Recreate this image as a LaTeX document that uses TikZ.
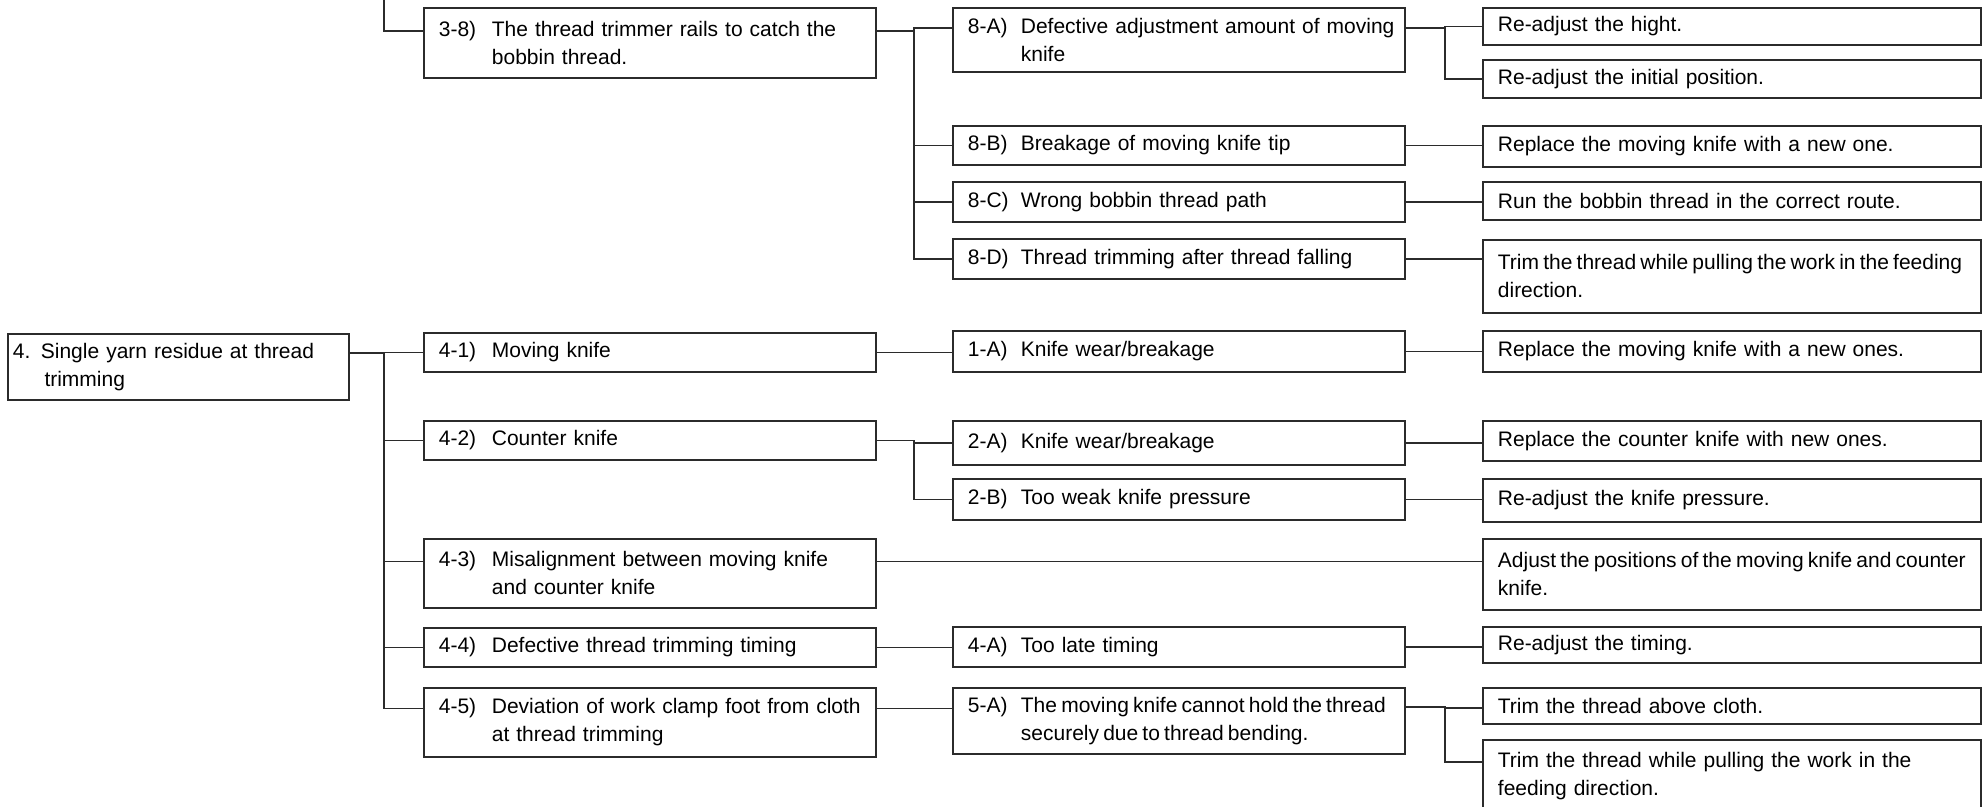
\documentclass[tikz,border=0pt]{standalone}
\usepackage{fontspec}
\setmainfont{Liberation Sans}
\usepackage{xcolor}
\definecolor{ink}{HTML}{2B2B2B}
\newcommand{\lab}[1]{\makebox[26.5pt][l]{#1}}
\newcommand{\hang}{\hspace*{26.5pt}}
\newcommand{\tight}{\spaceskip=0.2em\relax}
\tikzset{
 box/.style={draw=ink,line width=0.9pt,anchor=north west,inner sep=0pt,align=left,
  execute at begin node={\leftskip=7.5pt\rightskip=-4pt plus 1fil}},
 cause/.style={box,text width=226pt,minimum height=0.5pt*#1},
 fix/.style={box,text width=249pt,minimum height=0.5pt*#1},
 link/.style={draw=ink,line width=0.8pt}}
\begin{document}
\begin{tikzpicture}[x=0.5pt,y=-0.5pt,font=\fontsize{10.5pt}{14pt}\selectfont]
 \useasboundingbox (0,0) rectangle (1982,807);
 \node[box,text width=170.5pt,minimum height=0.5pt*66,execute at begin node={\leftskip=2.5pt}] (n4) at (7,333) {4. Single yarn residue at thread\\\hspace*{15.8pt}trimming};
 \node[cause=70] (n38) at (423,7) {\lab{3-8)}The thread trimmer rails to catch the\\\hang bobbin thread.};
 \node[cause=39] (n41) at (423,332) {\lab{4-1)}Moving knife};
 \node[cause=39] (n42) at (423,420) {\lab{4-2)}Counter knife};
 \node[cause=69] (n43) at (423,538) {\lab{4-3)}Misalignment between moving knife\\\hang and counter knife};
 \node[cause=39] (n44) at (423,627) {\lab{4-4)}Defective thread trimming timing};
 \node[cause=69] (n45) at (423,687) {\lab{4-5)}Deviation of work clamp foot from cloth\\\hang at thread trimming};
 \node[cause=64] (a8A) at (952,7) {\lab{8-A)}Defective adjustment amount of moving\\\hang knife};
 \node[cause=39] (a8B) at (952,125) {\lab{8-B)}Breakage of moving knife tip};
 \node[cause=40] (a8C) at (952,181) {\lab{8-C)}Wrong bobbin thread path};
 \node[cause=40] (a8D) at (952,238) {\lab{8-D)}Thread trimming after thread falling};
 \node[cause=41] (a1A) at (952,330) {\lab{1-A)}Knife wear/breakage};
 \node[cause=44] (a2A) at (952,420) {\lab{2-A)}Knife wear/breakage};
 \node[cause=41] (a2B) at (952,478) {\lab{2-B)}Too weak knife pressure};
 \node[cause=40] (a4A) at (952,626) {\lab{4-A)}Too late timing};
 \node[cause=66] (a5A) at (952,687) {\tight\lab{5-A)}The moving knife cannot hold the thread\\\hang securely due to thread bending.};
 \node[fix=37] (s1) at (1482,7) {Re-adjust the hight.};
 \node[fix=38] (s2) at (1482,59) {Re-adjust the initial position.};
 \node[fix=41] (s3) at (1482,125) {Replace the moving knife with a new one.};
 \node[fix=38] (s4) at (1482,181) {Run the bobbin thread in the correct route.};
 \node[fix=73] (s5) at (1482,239) {\tight Trim the thread while pulling the work in the feeding\\direction.};
 \node[fix=41] (s6) at (1482,330) {Replace the moving knife with a new ones.};
 \node[fix=40] (s7) at (1482,420) {Replace the counter knife with new ones.};
 \node[fix=43] (s8) at (1482,478) {Re-adjust the knife pressure.};
 \node[fix=71] (s9) at (1482,538) {\tight Adjust the positions of the moving knife and counter\\knife.};
 \node[fix=36] (s10) at (1482,626) {Re-adjust the timing.};
 \node[fix=36] (s11) at (1482,687) {Trim the thread above cloth.};
 \node[fix=72] (s12) at (1482,739) {Trim the thread while pulling the work in the\\feeding direction.};
 \coordinate (t3) at (384,-4);
 \draw[link] (t3) |- (n38.mid west);
 \foreach \m in {a8A,a8B,a8C,a8D} \draw[link] (n38.mid east) -- ++(37,0) |- (\m.mid west);
 \foreach \m in {s1,s2} \draw[link] (a8A.mid east) -- ++(39,0) |- (\m.mid west);
 \draw[link] (a8B.mid east) -- (a8B.mid east -| s3.west);
 \draw[link] (a8C.mid east) -- (a8C.mid east -| s4.west);
 \draw[link] (a8D.mid east) -- (a8D.mid east -| s5.west);
 \foreach \m in {n41,n42,n43,n44,n45} \draw[link] (n4.mid east) -- ++(34,0) |- (\m.mid west);
 \draw[link] (n41.mid east) -- (n41.mid east -| a1A.west);
 \draw[link] (a1A.mid east) -- (a1A.mid east -| s6.west);
 \foreach \m in {a2A,a2B} \draw[link] (n42.mid east) -- ++(37,0) |- (\m.mid west);
 \draw[link] (a2A.mid east) -- (a2A.mid east -| s7.west);
 \draw[link] (a2B.mid east) -- (a2B.mid east -| s8.west);
 \draw[link] (n43.mid east) -- (n43.mid east -| s9.west);
 \draw[link] (n44.mid east) -- (n44.mid east -| a4A.west);
 \draw[link] (a4A.mid east) -- (a4A.mid east -| s10.west);
 \draw[link] (n45.mid east) -- (n45.mid east -| a5A.west);
 \foreach \m in {s11,s12} \draw[link] (a5A.mid east) -- ++(39,0) |- (\m.mid west);
\end{tikzpicture}
\end{document}
